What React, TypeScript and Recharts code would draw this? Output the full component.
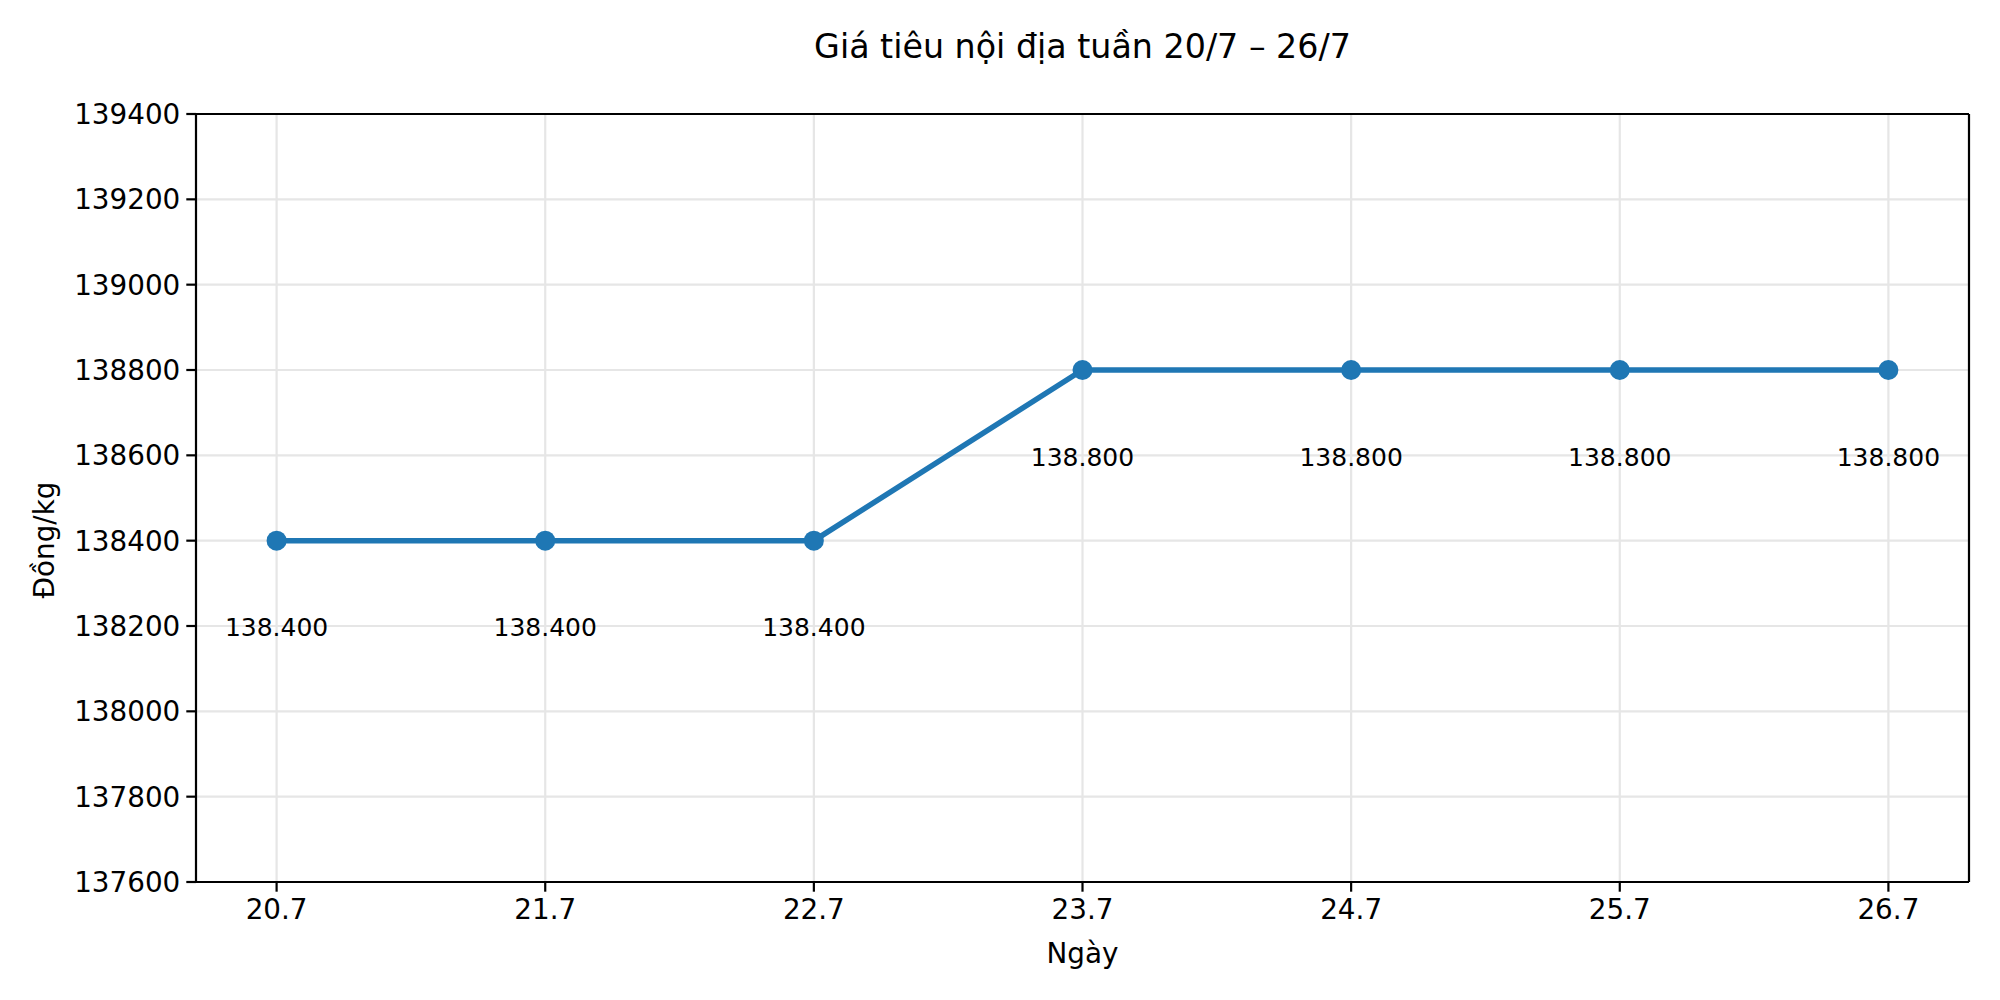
import { CartesianGrid, Line, LineChart, XAxis, YAxis } from 'recharts';

const days = ['20.7', '21.7', '22.7', '23.7', '24.7', '25.7', '26.7'];
const prices = [138400, 138400, 138400, 138800, 138800, 138800, 138800];
const yTicks = [137600, 137800, 138000, 138200, 138400, 138600, 138800, 139000, 139200, 139400];

const data = days.map((day, i) => ({ day, price: prices[i] }));

const font = '"DejaVu Sans", sans-serif';
const blue = '#1f77b4';

const fmt = (v: number) => String(v).replace(/\B(?=(\d{3})+(?!\d))/g, '.');

function PriceLabel(props: any) {
  const { x, y, value } = props;
  return (
    <text x={x} y={y + 87} textAnchor="middle" dominantBaseline="central" fontSize={25} fontFamily={font} fill="#000">
      {fmt(value)}
    </text>
  );
}

export default function App() {
  return (
    <div style={{ position: 'absolute', left: 0, top: 0, width: 2000, height: 1000, background: '#fff', fontFamily: font }}>
      <div style={{ position: 'absolute', left: 196, width: 1773, top: 28, textAlign: 'center', fontSize: 33.3, lineHeight: '38px' }}>
        Giá tiêu nội địa tuần 20/7 – 26/7
      </div>
      <div style={{ position: 'absolute', left: 196, width: 1773, top: 938, textAlign: 'center', fontSize: 27.8, lineHeight: '32px' }}>
        Ngày
      </div>
      <div
        style={{
          position: 'absolute',
          left: 45 - 100,
          top: 540 - 16,
          width: 200,
          textAlign: 'center',
          fontSize: 27.8,
          lineHeight: '32px',
          transform: 'rotate(-90deg)',
        }}
      >
        Đồng/kg
      </div>
      <LineChart width={2000} height={1000} data={data} margin={{ top: 113, right: 30, bottom: 58, left: 96 }}>
        <CartesianGrid stroke="#e6e6e6" strokeWidth={2.2} />
        <XAxis
          dataKey="day"
          padding={{ left: 80.6, right: 80.6 }}
          height={60}
          tickSize={9.7}
          tickMargin={8}
          axisLine={{ stroke: '#000', strokeWidth: 2.2 }}
          tickLine={{ stroke: '#000', strokeWidth: 2.2 }}
          tick={{ fill: '#000', fontSize: 27.8, fontFamily: font }}
        />
        <XAxis
          xAxisId="top"
          orientation="top"
          dataKey="day"
          padding={{ left: 80.6, right: 80.6 }}
          height={1}
          tick={false}
          tickLine={false}
          axisLine={{ stroke: '#000', strokeWidth: 2.2 }}
        />
        <YAxis
          type="number"
          domain={[137600, 139400]}
          ticks={yTicks}
          interval={0}
          width={100}
          tickSize={9.7}
          tickMargin={6}
          axisLine={{ stroke: '#000', strokeWidth: 2.2 }}
          tickLine={{ stroke: '#000', strokeWidth: 2.2 }}
          tick={{ fill: '#000', fontSize: 27.8, fontFamily: font }}
        />
        <YAxis
          yAxisId="right"
          orientation="right"
          type="number"
          domain={[137600, 139400]}
          width={1}
          tick={false}
          tickLine={false}
          axisLine={{ stroke: '#000', strokeWidth: 2.2 }}
        />
        <Line
          xAxisId="top"
          yAxisId="right"
          type="linear"
          dataKey="price"
          stroke="none"
          dot={false}
          activeDot={false}
          legendType="none"
          isAnimationActive={false}
        />
        <Line
          type="linear"
          dataKey="price"
          stroke={blue}
          strokeWidth={5.5}
          dot={{ r: 10, fill: blue, stroke: 'none' }}
          activeDot={false}
          label={PriceLabel}
          isAnimationActive={false}
        />
      </LineChart>
    </div>
  );
}
